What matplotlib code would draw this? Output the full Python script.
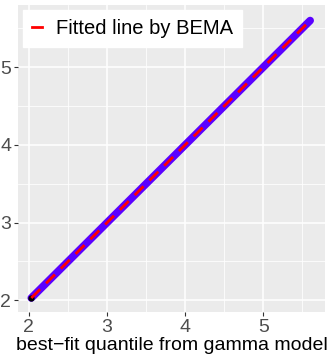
import numpy as np
import matplotlib.pyplot as plt
from matplotlib.lines import Line2D

plt.rcParams["font.family"] = ["Liberation Sans", "DejaVu Sans"]

# quantile pairs (gamma model vs observed)
x_q = [2.03, 2.08, 2.14, 2.2, 2.27, 2.34, 2.41, 2.49, 2.57, 2.65, 2.74, 2.83,
       2.92, 3.01, 3.1, 3.2, 3.3, 3.4, 3.5, 3.6, 3.7, 3.8, 3.9, 4.0, 4.1,
       4.2, 4.3, 4.4, 4.5, 4.6, 4.7, 4.8, 4.9, 5.0, 5.1, 5.2, 5.3, 5.4, 5.5, 5.6]
y_q = [2.03, 2.08, 2.14, 2.2, 2.27, 2.34, 2.41, 2.49, 2.57, 2.65, 2.74, 2.83,
       2.92, 3.01, 3.1, 3.2, 3.3, 3.4, 3.5, 3.6, 3.7, 3.8, 3.9, 4.0, 4.1,
       4.2, 4.3, 4.4, 4.5, 4.6, 4.7, 4.8, 4.9, 5.0, 5.1, 5.2, 5.3, 5.4, 5.5, 5.6]
intercept = 0.0
slope = 1.0
xticks = [2, 3, 4, 5]
yticks = [2, 3, 4, 5]

fig = plt.figure(figsize=(3.3, 3.63), dpi=100)
ax = fig.add_axes([18/330, 1 - 312/363, 307/330, 307/363])
ax.set_facecolor("#EBEBEB")
for s in ax.spines.values():
    s.set_visible(False)

ax.set_xlim(1.86, 5.79)
ax.set_ylim(1.85, 5.80)
ax.set_xticks(xticks)
ax.set_yticks(yticks)
ax.set_xticks([2.5, 3.5, 4.5, 5.5], minor=True)
ax.set_yticks([2.5, 3.5, 4.5, 5.5], minor=True)
ax.grid(True, which="major", color="white", lw=1.1)
ax.grid(True, which="minor", color="white", lw=0.55)
ax.set_axisbelow(True)
ax.tick_params(which="major", length=3, color="#333333", labelsize=14, labelcolor="#4D4D4D", pad=2)
ax.tick_params(which="minor", length=0)

# observed points (thick blue band)
ax.plot(x_q, y_q, color="#5a00ff", lw=5.5, solid_capstyle="round", zorder=2)
ax.scatter(x_q[:1], y_q[:1], color="black", s=12, zorder=3)

xs = np.array([x_q[0], x_q[-1]])
ax.plot(xs, intercept + slope * xs, color="red", lw=2, ls=(0, (4.5, 3)), zorder=4)

ax.set_xlabel("best\u2212fit quantile from gamma model", fontsize=14, color="black", labelpad=1)

handle = Line2D([], [], color="red", lw=2)
leg = ax.legend([handle], ["Fitted line by BEMA"], loc="upper left", fontsize=14.5,
                handlelength=0.5, frameon=True, fancybox=False, borderaxespad=0.25,
                handletextpad=0.7, borderpad=0.45)
leg.get_frame().set_edgecolor("white")
leg.get_frame().set_facecolor("white")
leg.get_frame().set_alpha(1)

fig.savefig("out.png", dpi=100)
